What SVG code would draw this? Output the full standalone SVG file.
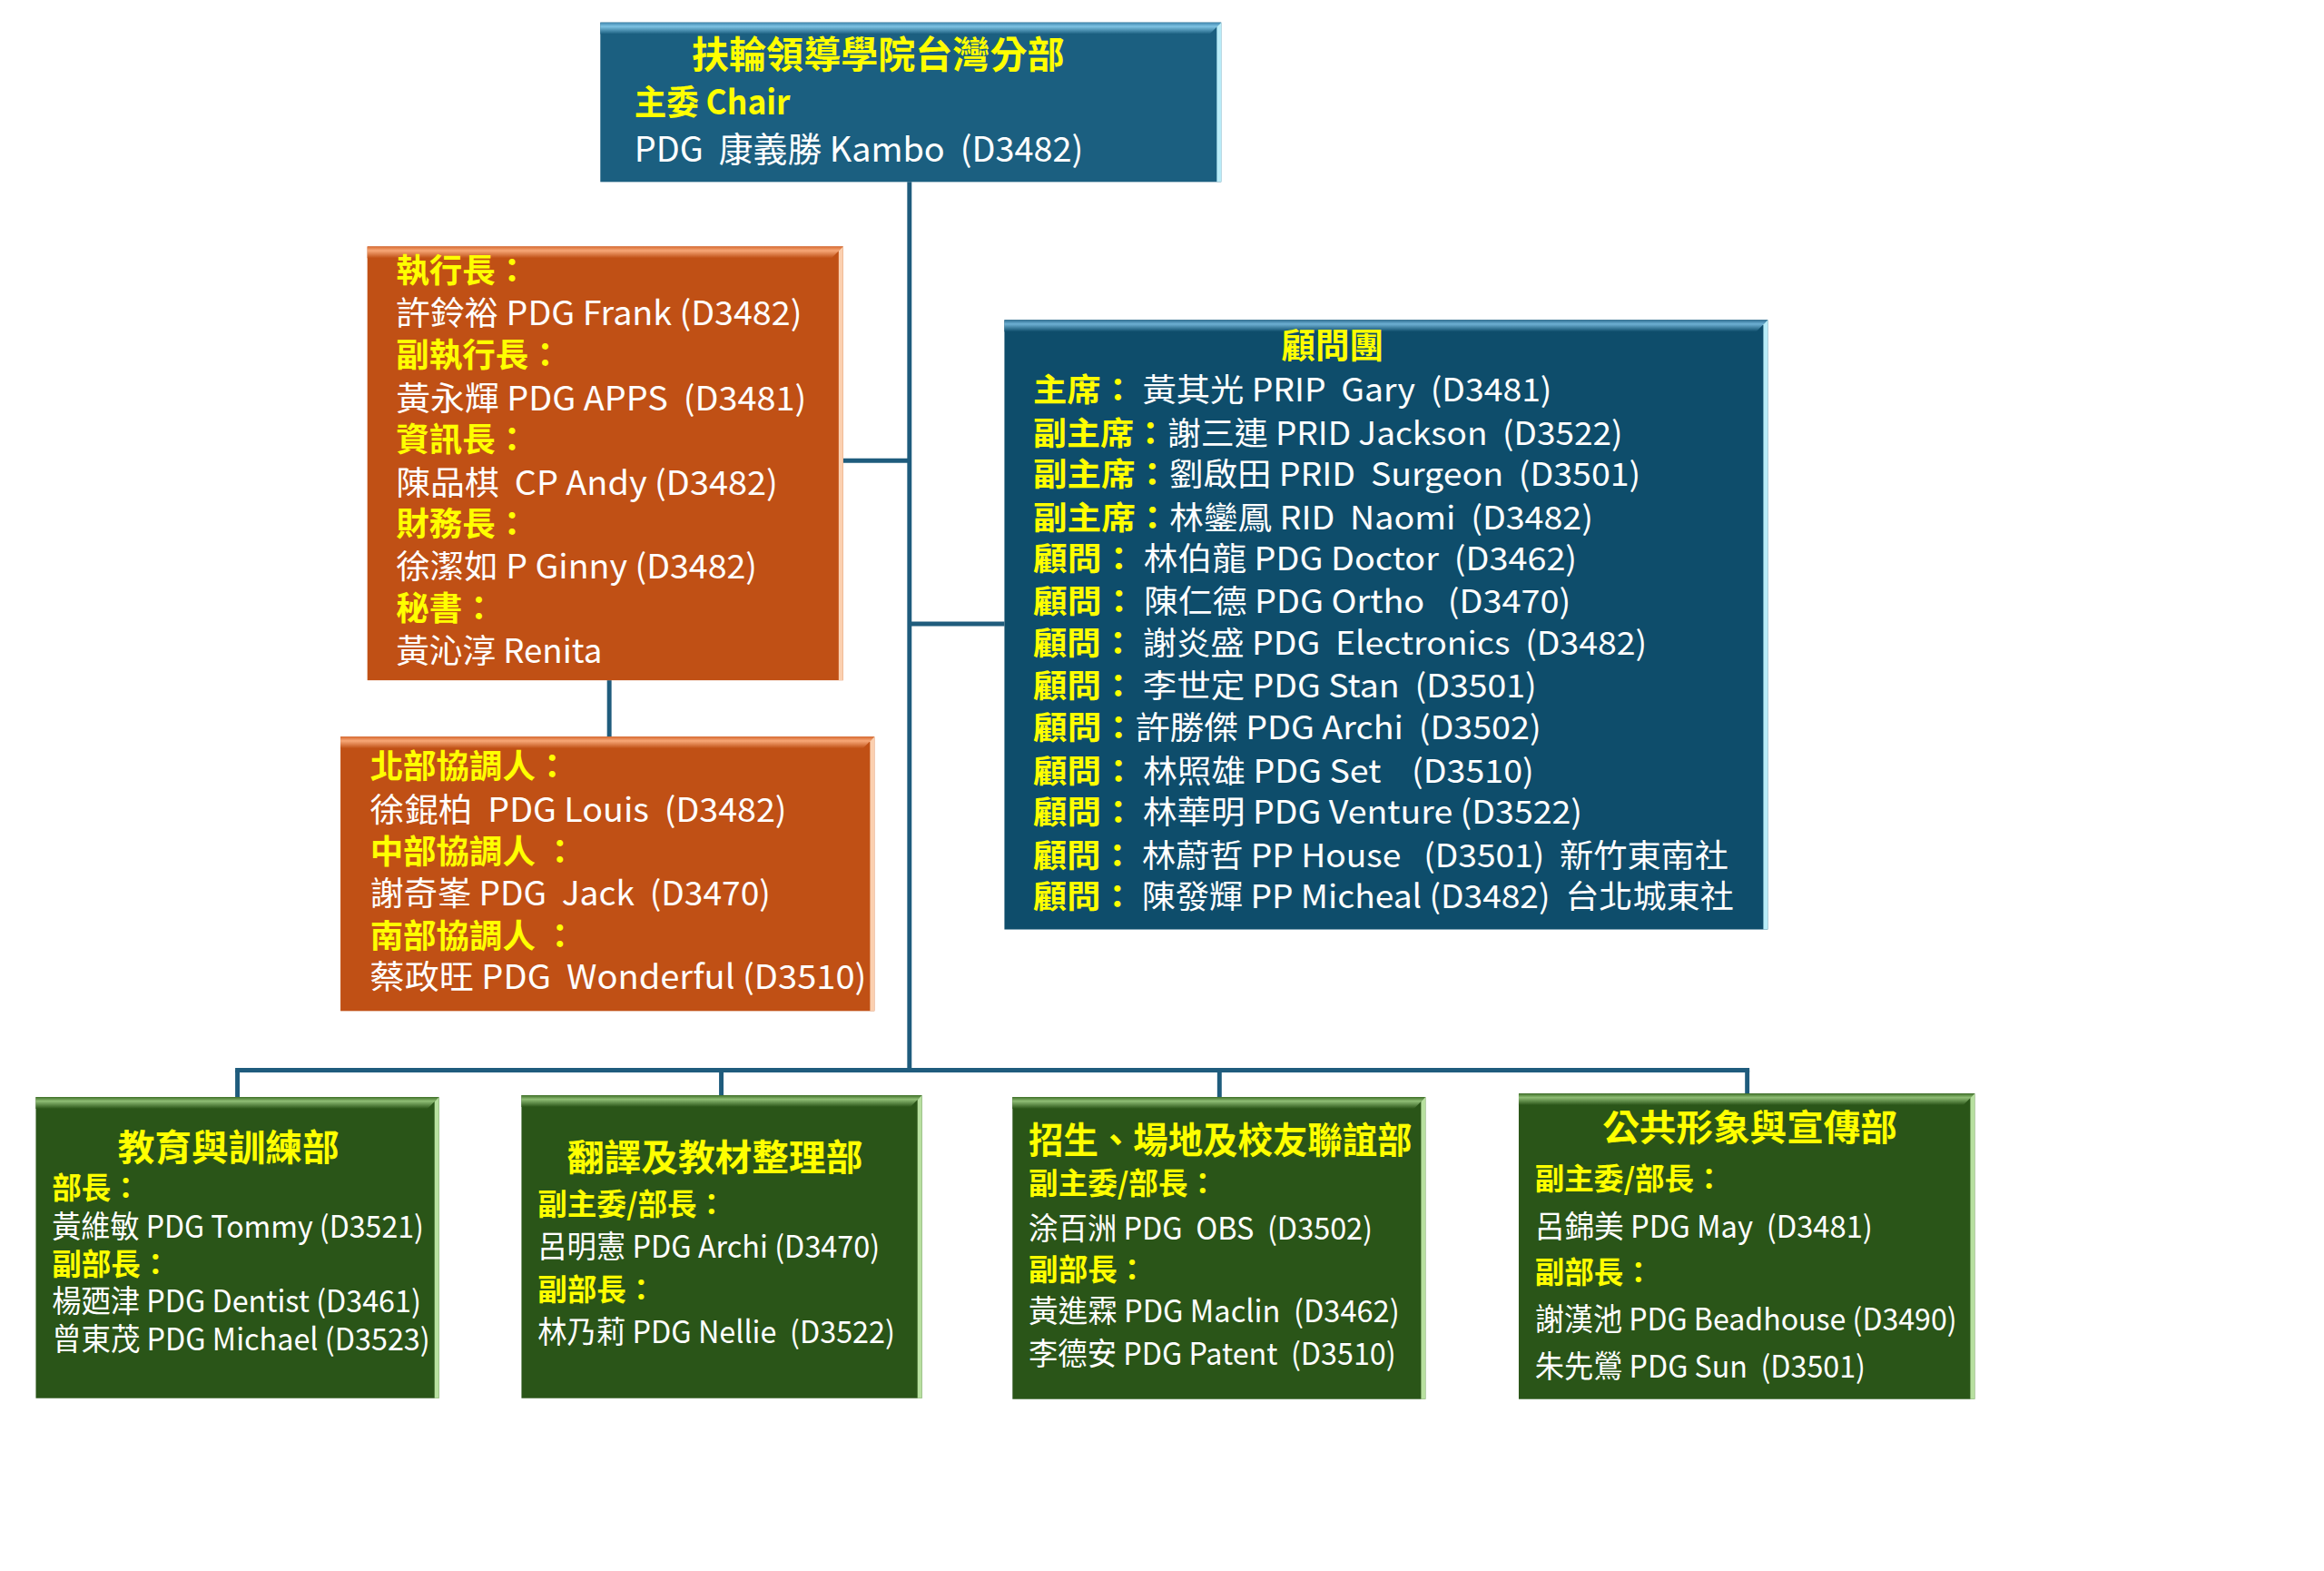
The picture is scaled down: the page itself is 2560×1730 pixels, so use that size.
<svg xmlns="http://www.w3.org/2000/svg" width="2560" height="1730" viewBox="0 0 2560 1730">
<defs>
<linearGradient id="gBlueT" x1="0" y1="0" x2="0" y2="1"><stop offset="0" stop-color="#3f86ad"/><stop offset="0.35" stop-color="#7ec3e3"/><stop offset="1" stop-color="#1b5f80"/></linearGradient>
<linearGradient id="gAdvT" x1="0" y1="0" x2="0" y2="1"><stop offset="0" stop-color="#2f6f93"/><stop offset="0.35" stop-color="#6eb0d3"/><stop offset="1" stop-color="#0e4d6b"/></linearGradient>
<linearGradient id="gOrT" x1="0" y1="0" x2="0" y2="1"><stop offset="0" stop-color="#d86a30"/><stop offset="0.35" stop-color="#f7a878"/><stop offset="1" stop-color="#c05015"/></linearGradient>
<linearGradient id="gGrT" x1="0" y1="0" x2="0" y2="1"><stop offset="0" stop-color="#3f7028"/><stop offset="0.35" stop-color="#8fbd75"/><stop offset="1" stop-color="#2a5518"/></linearGradient>
</defs>
<style>
text{font-family:"Noto Sans CJK TC","Noto Sans",sans-serif;white-space:pre;dominant-baseline:central}
.y{fill:#ffff00;font-weight:bold}
.w{fill:#ffffff}
.conn{stroke:#1f5c7d;stroke-width:5;fill:none}
.blue{fill:#1b5f80}
.adv{fill:#0e4d6b}
.or{fill:#c05015}
.gr{fill:#2a5518}
.rb-b{fill:#b8ecf8}
.rb-o{fill:#fbd0b0}
.rb-g{fill:#b8e0a0}
</style>
<rect width="2560" height="1730" fill="#ffffff"/>
<g transform="scale(0.987)">

<g id="connectors">
<line class="conn" x1="1015" y1="203" x2="1015" y2="1194"/>
<line class="conn" x1="941" y1="514" x2="1015" y2="514"/>
<line class="conn" x1="680" y1="759" x2="680" y2="822"/>
<line class="conn" x1="1015" y1="696" x2="1121" y2="696"/>
<line class="conn" x1="262.5" y1="1194" x2="1952.5" y2="1194"/>
<line class="conn" x1="265" y1="1194" x2="265" y2="1224"/>
<line class="conn" x1="805" y1="1194" x2="805" y2="1222"/>
<line class="conn" x1="1361" y1="1194" x2="1361" y2="1224"/>
<line class="conn" x1="1950" y1="1194" x2="1950" y2="1220"/>
</g>

<g id="chair">
<rect class="blue" x="670" y="25" width="693" height="178"/>
<polygon points="670,25 1363,25 1350,38 670,38" fill="url(#gBlueT)"/>
<polygon class="rb-b" points="1363,25 1363,203 1358,203 1358,30"/>
<text class="y" x="772" y="58" font-size="41" textLength="416" lengthAdjust="spacingAndGlyphs">扶輪領導學院台灣分部</text>
<text class="y" x="708" y="111" font-size="38" textLength="174" lengthAdjust="spacingAndGlyphs">主委 Chair</text>
<text class="w" x="708" y="164" font-size="38" textLength="501" lengthAdjust="spacingAndGlyphs">PDG  康義勝 Kambo  (D3482)</text>
</g>

<g id="executive">
<rect class="or" x="410" y="275" width="531" height="484"/>
<polygon points="410,275 941,275 928,288 410,288" fill="url(#gOrT)"/>
<polygon class="rb-o" points="941,275 941,759 936,759 936,280"/>
<text class="y" x="442" y="299" font-size="37">執行長：</text>
<text class="w" x="442" y="347" font-size="37" textLength="453" lengthAdjust="spacingAndGlyphs">許鈴裕 PDG Frank (D3482)</text>
<text class="y" x="442" y="394" font-size="37">副執行長：</text>
<text class="w" x="442" y="442" font-size="37" textLength="458" lengthAdjust="spacingAndGlyphs">黃永輝 PDG APPS  (D3481)</text>
<text class="y" x="442" y="488" font-size="37">資訊長：</text>
<text class="w" x="442" y="536" font-size="37" textLength="426" lengthAdjust="spacingAndGlyphs">陳品棋  CP Andy (D3482)</text>
<text class="y" x="442" y="582" font-size="37">財務長：</text>
<text class="w" x="442" y="630" font-size="37" textLength="403" lengthAdjust="spacingAndGlyphs">徐潔如 P Ginny (D3482)</text>
<text class="y" x="442" y="676" font-size="37">秘書：</text>
<text class="w" x="442" y="724" font-size="37" textLength="230" lengthAdjust="spacingAndGlyphs">黃沁淳 Renita</text>
</g>

<g id="coordinators">
<rect class="or" x="380" y="822" width="596" height="306"/>
<polygon points="380,822 976,822 963,835 380,835" fill="url(#gOrT)"/>
<polygon class="rb-o" points="976,822 976,1128 971,1128 971,827"/>
<text class="y" x="413" y="853" font-size="37">北部協調人：</text>
<text class="w" x="413" y="901" font-size="37" textLength="465" lengthAdjust="spacingAndGlyphs">徐錕柏  PDG Louis  (D3482)</text>
<text class="y" x="413" y="948" font-size="37">中部協調人 ：</text>
<text class="w" x="413" y="994" font-size="37" textLength="447" lengthAdjust="spacingAndGlyphs">謝奇峯 PDG  Jack  (D3470)</text>
<text class="y" x="413" y="1042" font-size="37">南部協調人 ：</text>
<text class="w" x="413" y="1088" font-size="37" textLength="554" lengthAdjust="spacingAndGlyphs">蔡政旺 PDG  Wonderful (D3510)</text>
</g>

<g id="advisors">
<rect class="adv" x="1121" y="357" width="852" height="680"/>
<polygon points="1121,357 1973,357 1960,370 1121,370" fill="url(#gAdvT)"/>
<polygon class="rb-b" points="1973,357 1973,1037 1968,1037 1968,362"/>
<text class="y" x="1487" y="382" font-size="38" text-anchor="middle">顧問團</text>
<text x="1153" y="432" font-size="36" textLength="579" lengthAdjust="spacingAndGlyphs"><tspan class="y">主席： </tspan><tspan class="w">黃其光 PRIP  Gary  (D3481)</tspan></text>
<text x="1153" y="480" font-size="36" textLength="658" lengthAdjust="spacingAndGlyphs"><tspan class="y">副主席：</tspan><tspan class="w">謝三連 PRID Jackson  (D3522)</tspan></text>
<text x="1153" y="526" font-size="36" textLength="678" lengthAdjust="spacingAndGlyphs"><tspan class="y">副主席：</tspan><tspan class="w">劉啟田 PRID  Surgeon  (D3501)</tspan></text>
<text x="1153" y="574" font-size="36" textLength="625" lengthAdjust="spacingAndGlyphs"><tspan class="y">副主席：</tspan><tspan class="w">林鑾鳳 RID  Naomi  (D3482)</tspan></text>
<text x="1153" y="620" font-size="36" textLength="607" lengthAdjust="spacingAndGlyphs"><tspan class="y">顧問： </tspan><tspan class="w">林伯龍 PDG Doctor  (D3462)</tspan></text>
<text x="1153" y="668" font-size="36" textLength="600" lengthAdjust="spacingAndGlyphs"><tspan class="y">顧問： </tspan><tspan class="w">陳仁德 PDG Ortho   (D3470)</tspan></text>
<text x="1153" y="714" font-size="36" textLength="685" lengthAdjust="spacingAndGlyphs"><tspan class="y">顧問： </tspan><tspan class="w">謝炎盛 PDG  Electronics  (D3482)</tspan></text>
<text x="1153" y="762" font-size="36" textLength="562" lengthAdjust="spacingAndGlyphs"><tspan class="y">顧問： </tspan><tspan class="w">李世定 PDG Stan  (D3501)</tspan></text>
<text x="1153" y="809" font-size="36" textLength="567" lengthAdjust="spacingAndGlyphs"><tspan class="y">顧問：</tspan><tspan class="w">許勝傑 PDG Archi  (D3502)</tspan></text>
<text x="1153" y="857" font-size="36" textLength="559" lengthAdjust="spacingAndGlyphs"><tspan class="y">顧問： </tspan><tspan class="w">林照雄 PDG Set    (D3510)</tspan></text>
<text x="1153" y="903" font-size="36" textLength="613" lengthAdjust="spacingAndGlyphs"><tspan class="y">顧問： </tspan><tspan class="w">林華明 PDG Venture (D3522)</tspan></text>
<text x="1153" y="951" font-size="36" textLength="776" lengthAdjust="spacingAndGlyphs"><tspan class="y">顧問： </tspan><tspan class="w">林蔚哲 PP House   (D3501)  新竹東南社</tspan></text>
<text x="1153" y="997" font-size="36" textLength="782" lengthAdjust="spacingAndGlyphs"><tspan class="y">顧問： </tspan><tspan class="w">陳發輝 PP Micheal (D3482)  台北城東社</tspan></text>
</g>

<g id="dept-education">
<rect class="gr" x="40" y="1224" width="450" height="336"/>
<polygon points="40,1224 490,1224 477,1237 40,1237" fill="url(#gGrT)"/>
<polygon class="rb-g" points="490,1224 490,1560 485,1560 485,1229"/>
<text class="y" x="255" y="1277" font-size="40" text-anchor="middle" textLength="247" lengthAdjust="spacingAndGlyphs">教育與訓練部</text>
<text class="y" x="58" y="1323" font-size="33">部長：</text>
<text class="w" x="58" y="1366" font-size="34" textLength="415" lengthAdjust="spacingAndGlyphs">黃維敏 PDG Tommy (D3521)</text>
<text class="y" x="58" y="1408" font-size="33">副部長：</text>
<text class="w" x="58" y="1449" font-size="34" textLength="412" lengthAdjust="spacingAndGlyphs">楊廼津 PDG Dentist (D3461)</text>
<text class="w" x="58" y="1492" font-size="34" textLength="422" lengthAdjust="spacingAndGlyphs">曾東茂 PDG Michael (D3523)</text>
</g>

<g id="dept-translation">
<rect class="gr" x="582" y="1222" width="447" height="338"/>
<polygon points="582,1222 1029,1222 1016,1235 582,1235" fill="url(#gGrT)"/>
<polygon class="rb-g" points="1029,1222 1029,1560 1024,1560 1024,1227"/>
<text class="y" x="798" y="1288" font-size="40" text-anchor="middle" textLength="330" lengthAdjust="spacingAndGlyphs">翻譯及教材整理部</text>
<text class="y" x="600" y="1341" font-size="33">副主委/部長：</text>
<text class="w" x="600" y="1389" font-size="34" textLength="382" lengthAdjust="spacingAndGlyphs">呂明憲 PDG Archi (D3470)</text>
<text class="y" x="600" y="1436" font-size="33">副部長：</text>
<text class="w" x="600" y="1484" font-size="34" textLength="399" lengthAdjust="spacingAndGlyphs">林乃莉 PDG Nellie  (D3522)</text>
</g>

<g id="dept-admissions">
<rect class="gr" x="1130" y="1224" width="461" height="337"/>
<polygon points="1130,1224 1591,1224 1578,1237 1130,1237" fill="url(#gGrT)"/>
<polygon class="rb-g" points="1591,1224 1591,1561 1586,1561 1586,1229"/>
<text class="y" x="1148" y="1269" font-size="40" textLength="428" lengthAdjust="spacingAndGlyphs">招生、場地及校友聯誼部</text>
<text class="y" x="1148" y="1318" font-size="33">副主委/部長：</text>
<text class="w" x="1148" y="1368" font-size="34" textLength="384" lengthAdjust="spacingAndGlyphs">涂百洲 PDG  OBS  (D3502)</text>
<text class="y" x="1148" y="1414" font-size="33">副部長：</text>
<text class="w" x="1148" y="1460" font-size="34" textLength="414" lengthAdjust="spacingAndGlyphs">黃進霖 PDG Maclin  (D3462)</text>
<text class="w" x="1148" y="1508" font-size="34" textLength="410" lengthAdjust="spacingAndGlyphs">李德安 PDG Patent  (D3510)</text>
</g>

<g id="dept-publicimage">
<rect class="gr" x="1695" y="1220" width="509" height="341"/>
<polygon points="1695,1220 2204,1220 2191,1233 1695,1233" fill="url(#gGrT)"/>
<polygon class="rb-g" points="2204,1220 2204,1561 2199,1561 2199,1225"/>
<text class="y" x="1953" y="1255" font-size="40" text-anchor="middle" textLength="329" lengthAdjust="spacingAndGlyphs">公共形象與宣傳部</text>
<text class="y" x="1713" y="1313" font-size="33">副主委/部長：</text>
<text class="w" x="1713" y="1366" font-size="34" textLength="377" lengthAdjust="spacingAndGlyphs">呂錦美 PDG May  (D3481)</text>
<text class="y" x="1713" y="1417" font-size="33">副部長：</text>
<text class="w" x="1713" y="1470" font-size="34" textLength="471" lengthAdjust="spacingAndGlyphs">謝漢池 PDG Beadhouse (D3490)</text>
<text class="w" x="1713" y="1522" font-size="34" textLength="369" lengthAdjust="spacingAndGlyphs">朱先鶯 PDG Sun  (D3501)</text>
</g>
</g>
</svg>
